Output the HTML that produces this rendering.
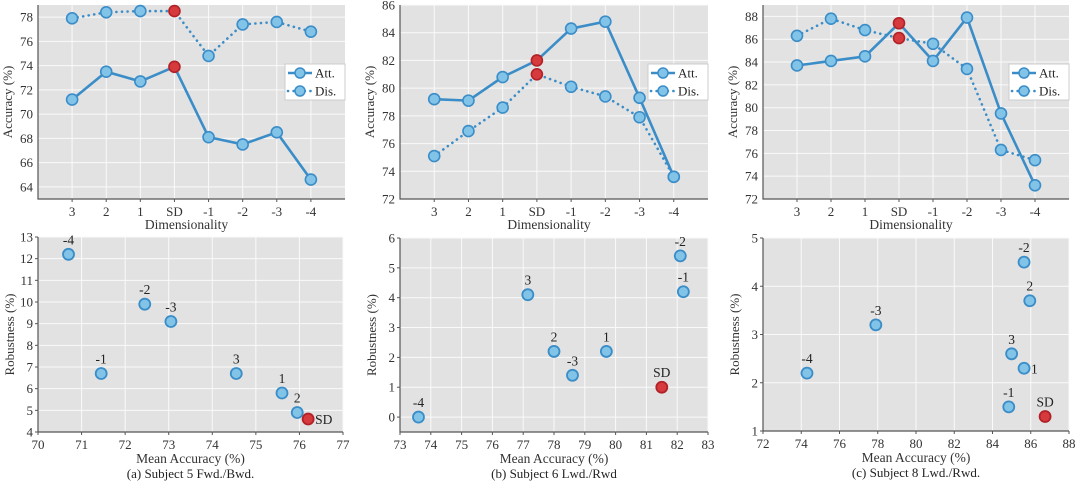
<!DOCTYPE html>
<html><head><meta charset="utf-8"><style>
html,body{margin:0;padding:0;background:#fff;}
svg{display:block;font-family:"Liberation Serif",serif;}
</style></head><body>
<svg id="fig" width="1080" height="485" viewBox="0 0 1080 485" xmlns="http://www.w3.org/2000/svg"></svg>
<script>
const dims = ["3","2","1","SD","-1","-2","-3","-4"];
const attA = [71.2,73.5,72.7,73.9,68.1,67.5,68.5,64.6];
const disA = [77.9,78.4,78.5,78.5,74.8,77.4,77.6,76.8];
const attB = [79.2,79.1,80.8,82.0,84.3,84.8,79.3,73.6];
const disB = [75.1,76.9,78.6,81.0,80.1,79.4,77.9,73.6];
const attC = [83.7,84.1,84.5,87.4,84.1,87.9,79.5,73.2];
const disC = [86.3,87.8,86.8,86.1,85.6,83.4,76.3,75.4];
const ticksTopA = [64,66,68,70,72,74,76,78];
const ticksTopB = [72,74,76,78,80,82,84,86];
const ticksTopC = [72,74,76,78,80,82,84,86,88];
const scLabA = ["-4","-2","-3","-1","3","1","2","SD"];
const scXA = [70.7,72.45,73.05,71.45,74.55,75.6,75.95,76.2];
const scYA = [12.2,9.9,9.1,6.7,6.7,5.8,4.9,4.6];
const scLabB = ["-4","3","2","-3","1","SD","-2","-1"];
const scXB = [73.6,77.15,78.0,78.6,79.7,81.5,82.1,82.2];
const scYB = [0,4.1,2.2,1.4,2.2,1.0,5.4,4.2];
const scLabC = ["-4","-3","3","1","-1","-2","2","SD"];
const scXC = [74.3,77.9,85.0,85.65,84.85,85.65,85.95,86.75];
const scYC = [2.2,3.2,2.6,2.3,1.5,4.5,3.7,1.3];
const xTicksA = [70,71,72,73,74,75,76,77];
const yTicksA = [4,5,6,7,8,9,10,11,12,13];
const xTicksB = [73,74,75,76,77,78,79,80,81,82,83];
const yTicksB = [0,1,2,3,4,5,6];
const xTicksC = [72,74,76,78,80,82,84,86,88];
const yTicksC = [1,2,3,4,5];

const NS="http://www.w3.org/2000/svg";
const svg=document.getElementById('fig');
function mk(tag,attrs,parent){const e=document.createElementNS(NS,tag);for(const k in attrs)e.setAttribute(k,attrs[k]);(parent||svg).appendChild(e);return e;}
function txt(s,attrs,parent){const e=mk('text',attrs,parent);e.textContent=s;return e;}
const BLUE="#3b8dc8",FILL="#82c3e8",RED="#d63a3c",REDE="#b02228",GRID="#fafafa",BG="#e2e2e2",AX="#555";
const FS=13;

function lineChart(id,L,R,T,B,ymin,ymax,yt,att,dis,sdIdx){
  const g=mk('g',{});
  
  
  const xs=i=>L+(i+1)*(R-L)/9;
  const ys=v=>B-(v-ymin)*(B-T)/(ymax-ymin);
  mk('rect',{x:L,y:T,width:R-L,height:B-T,fill:BG},g);
  yt.forEach(v=>{mk('line',{x1:L,x2:R,y1:ys(v),y2:ys(v),stroke:GRID,'stroke-width':1},g);
    const t=txt(v,{x:L-5,y:ys(v)+4.5,'text-anchor':'end','font-size':FS,fill:'#333'},g);
    });
  dims.forEach((d,i)=>{mk('line',{x1:xs(i),x2:xs(i),y1:T,y2:B,stroke:GRID,'stroke-width':1},g);
    mk('line',{x1:xs(i),x2:xs(i),y1:B,y2:B+3,stroke:AX},g);
    const t=txt(d,{x:xs(i),y:B+17,'text-anchor':'middle','font-size':FS,fill:'#333'},g);
    });
  mk('path',{d:`M${L},${T}V${B}H${R}`,fill:'none',stroke:AX,'stroke-width':1.2},g);
  const pd=arr=>arr.map((v,i)=>(i?'L':'M')+xs(i)+','+ys(v)).join('');
  const dl=mk('path',{d:pd(dis),fill:'none',stroke:BLUE,'stroke-width':2.6,'stroke-dasharray':'0.1 5.5','stroke-linecap':'round'},g);
  
  const al=mk('path',{d:pd(att),fill:'none',stroke:BLUE,'stroke-width':2.6},g);
  
  [[dis,'dis-point'],[att,'att-point']].forEach(([arr,nm])=>arr.forEach((v,i)=>{
    const sd=i===sdIdx;
    const c=mk('circle',{cx:xs(i),cy:ys(v),r:5.5,fill:sd?RED:FILL,stroke:sd?REDE:BLUE,'stroke-width':1.6},g);
    }));
  const lg=mk('g',{},g);
  
  mk('rect',{x:R-60,y:64,width:60,height:36,fill:'#fff',stroke:'#ccc'},lg);
  mk('line',{x1:R-57,x2:R-33,y1:73,y2:73,stroke:BLUE,'stroke-width':2.6},lg);
  mk('circle',{cx:R-45,cy:73,r:5,fill:FILL,stroke:BLUE,'stroke-width':1.5},lg);
  txt('Att.',{x:R-30,y:77.5,'font-size':FS,fill:'#222'},lg);
  mk('line',{x1:R-57,x2:R-33,y1:91,y2:91,stroke:BLUE,'stroke-width':2.6,'stroke-dasharray':'0.1 5.5','stroke-linecap':'round'},lg);
  mk('circle',{cx:R-45,cy:91,r:5,fill:FILL,stroke:BLUE,'stroke-width':1.5},lg);
  txt('Dis.',{x:R-30,y:95.5,'font-size':FS,fill:'#222'},lg);
  const yl=txt('Accuracy (%)',{x:0,y:0,'text-anchor':'middle','font-size':13,fill:'#333',transform:`translate(${L-26},${(T+B)/2}) rotate(-90)`},g);
  
  const xl=txt('Dimensionality',{x:(L+R)/2-5,y:B+30,'text-anchor':'middle','font-size':13.5,fill:'#333'},g);
  
}

function scatter(id,L,R,T,B,xmin,xmax,ymin,ymax,xt,yt,X,Y,lab,caption,rightLab){
  const g=mk('g',{});
  
  
  const xs=v=>L+(v-xmin)*(R-L)/(xmax-xmin);
  const ys=v=>B-(v-ymin)*(B-T)/(ymax-ymin);
  mk('rect',{x:L,y:T,width:R-L,height:B-T,fill:BG},g);
  yt.forEach(v=>{mk('line',{x1:L,x2:R,y1:ys(v),y2:ys(v),stroke:GRID},g);
    mk('line',{x1:L-3,x2:L,y1:ys(v),y2:ys(v),stroke:AX},g);
    const t=txt(v,{x:L-5,y:ys(v)+4.5,'text-anchor':'end','font-size':FS,fill:'#333'},g);
    });
  xt.forEach(v=>{mk('line',{x1:xs(v),x2:xs(v),y1:T,y2:B,stroke:GRID},g);
    mk('line',{x1:xs(v),x2:xs(v),y1:B,y2:B+3,stroke:AX},g);
    const t=txt(v,{x:xs(v),y:B+17,'text-anchor':'middle','font-size':FS,fill:'#333'},g);
    });
  mk('path',{d:`M${L},${T}V${B}H${R}`,fill:'none',stroke:AX,'stroke-width':1.2},g);
  X.forEach((x,i)=>{
    const sd=lab[i]==='SD';
    const c=mk('circle',{cx:xs(x),cy:ys(Y[i]),r:5.5,fill:sd?RED:FILL,stroke:sd?REDE:BLUE,'stroke-width':1.8},g);
    
    const right=rightLab.includes(lab[i]);
    const t=txt(lab[i],{x:right?xs(x)+7:xs(x),y:right?ys(Y[i])+5:ys(Y[i])-10,'text-anchor':right?'start':'middle','font-size':13.5,fill:'#222'},g);
    
  });
  const yl=txt('Robustness (%)',{x:0,y:0,'text-anchor':'middle','font-size':13,fill:'#333',transform:`translate(${L-24},${(T+B)/2}) rotate(-90)`},g);
  
  const xl=txt('Mean Accuracy (%)',{x:(L+R)/2,y:B+31,'text-anchor':'middle','font-size':13.5,fill:'#333'},g);
  
  const cp=txt(caption,{x:(L+R)/2,y:B+46,'text-anchor':'middle','font-size':13,fill:'#222'},g);
  
}

lineChart('accuracy-chart-a',38,345,5,199,63,79,ticksTopA,attA,disA,3);
lineChart('accuracy-chart-b',400,708,5,199,72,86,ticksTopB,attB,disB,3);
lineChart('accuracy-chart-c',763,1069,5,199,72,89,ticksTopC,attC,disC,3);
scatter('robustness-chart-a',38,343,237,432,70,77,4,13,xTicksA,yTicksA,scXA,scYA,scLabA,'(a) Subject 5 Fwd./Bwd.',['SD']);
scatter('robustness-chart-b',400,708,238,432,73,83,-0.5,6,xTicksB,yTicksB,scXB,scYB,scLabB,'(b) Subject 6 Lwd./Rwd',[]);
scatter('robustness-chart-c',763,1069,238,431,72,88,1,5,xTicksC,yTicksC,scXC,scYC,scLabC,'(c) Subject 8 Lwd./Rwd.',['1']);
</script>
</body></html>
